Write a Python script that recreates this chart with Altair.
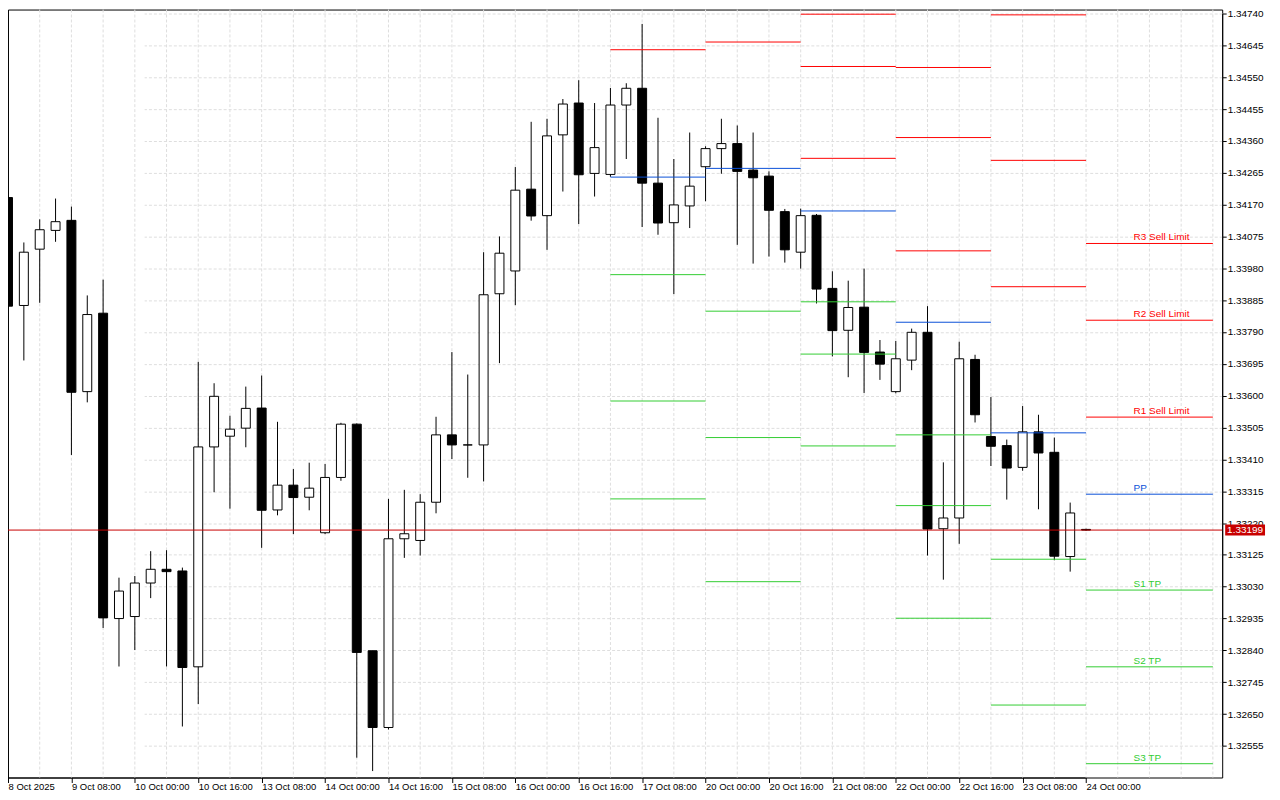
import json
import altair as alt
import pandas as pd

# ---------------- data (H4 candles) ----------------
opens = [1.34191, 1.33869, 1.34037, 1.34093, 1.34123, 1.33612, 1.33846, 1.32935, 1.32941, 1.33041,
         1.33082, 1.33077, 1.32791, 1.33447, 1.33479, 1.33503, 1.33563, 1.33259, 1.33333, 1.33297,
         1.33191, 1.33356, 1.33515, 1.32839, 1.32610, 1.33173, 1.33168, 1.33282, 1.33483, 1.33453,
         1.33453, 1.33904, 1.33972, 1.34216, 1.34137, 1.34378, 1.34473, 1.34263, 1.34260, 1.34467,
         1.34517, 1.34234, 1.34116, 1.34166, 1.34283, 1.34337, 1.34352, 1.34273, 1.34255, 1.34149,
         1.34028, 1.34138, 1.33920, 1.33795, 1.33864, 1.33730, 1.33612, 1.33706, 1.33789, 1.33203,
         1.33235, 1.33708, 1.33478, 1.33451, 1.33386, 1.33492, 1.33431, 1.33120, 1.33201]
highs = [1.34196, 1.34057, 1.34126, 1.34188, 1.34164, 1.33899, 1.33946, 1.33057, 1.33062, 1.33136,
         1.33139, 1.33087, 1.33701, 1.33637, 1.33540, 1.33627, 1.33660, 1.33522, 1.33381, 1.33400,
         1.33396, 1.33519, 1.33517, 1.32839, 1.33292, 1.33319, 1.33306, 1.33537, 1.33730, 1.33663,
         1.34028, 1.34075, 1.34282, 1.34417, 1.34426, 1.34485, 1.34541, 1.34473, 1.34518, 1.34532,
         1.34709, 1.34429, 1.34306, 1.34385, 1.34344, 1.34426, 1.34406, 1.34385, 1.34269, 1.34157,
         1.34158, 1.34142, 1.33971, 1.33943, 1.33979, 1.33766, 1.33763, 1.33800, 1.33867, 1.33401,
         1.33761, 1.33722, 1.33596, 1.33469, 1.33569, 1.33543, 1.33475, 1.33281, 1.33203]
lows = [1.33858, 1.33705, 1.33877, 1.34059, 1.33423, 1.33580, 1.32907, 1.32792, 1.32841, 1.32996,
        1.32792, 1.32613, 1.32680, 1.33312, 1.33263, 1.33446, 1.33146, 1.33243, 1.33187, 1.33258,
        1.33187, 1.33346, 1.32520, 1.32480, 1.32604, 1.33116, 1.33123, 1.33249, 1.33411, 1.33355,
        1.33344, 1.33697, 1.33870, 1.34122, 1.34035, 1.34209, 1.34112, 1.34194, 1.34253, 1.34306,
        1.34103, 1.34080, 1.33903, 1.34100, 1.34180, 1.34262, 1.34050, 1.33994, 1.34015, 1.33997,
        1.33979, 1.33875, 1.33717, 1.33655, 1.33608, 1.33647, 1.33607, 1.33676, 1.33123, 1.33051,
        1.33158, 1.33520, 1.33390, 1.33290, 1.33376, 1.33261, 1.33109, 1.33075, 1.33197]
closes = [1.33867, 1.34028, 1.34095, 1.34119, 1.33610, 1.33842, 1.32937, 1.33017, 1.33041, 1.33082,
          1.33075, 1.32789, 1.33447, 1.33598, 1.33500, 1.33562, 1.33258, 1.33333, 1.33296, 1.33324,
          1.33356, 1.33515, 1.32834, 1.32610, 1.33173, 1.33188, 1.33282, 1.33483, 1.33453, 1.33453,
          1.33901, 1.34025, 1.34213, 1.34136, 1.34375, 1.34470, 1.34259, 1.34340, 1.34467, 1.34517,
          1.34234, 1.34115, 1.34169, 1.34225, 1.34337, 1.34352, 1.34269, 1.34250, 1.34153, 1.34035,
          1.34137, 1.33918, 1.33794, 1.33863, 1.33729, 1.33694, 1.33710, 1.33789, 1.33202, 1.33235,
          1.33710, 1.33543, 1.33449, 1.33384, 1.33492, 1.33429, 1.33121, 1.33250, 1.33199]

# x-axis time labels, one every 4 bars
time_labels = ["8 Oct 2025", "9 Oct 08:00", "10 Oct 00:00", "10 Oct 16:00", "13 Oct 08:00",
               "14 Oct 00:00", "14 Oct 16:00", "15 Oct 08:00", "16 Oct 00:00", "16 Oct 16:00",
               "17 Oct 08:00", "20 Oct 00:00", "20 Oct 16:00", "21 Oct 08:00", "22 Oct 00:00",
               "22 Oct 16:00", "23 Oct 08:00", "24 Oct 00:00"]
time_label_bars = [0, 4, 8, 12, 16, 20, 24, 28, 32, 36, 40, 44, 48, 52, 56, 60, 64, 68]
grid_bars = [2, 4, 6, 8, 10, 12, 14, 16, 18, 20, 22, 24, 26, 28, 30, 32, 34, 36, 38, 40, 42, 44,
             46, 48, 50, 52, 54, 56, 58, 60, 62, 64, 66, 68, 70, 72, 74, 76]
price_ticks = [1.32555, 1.32650, 1.32745, 1.32840, 1.32935, 1.33030, 1.33125, 1.33220,
               1.33315, 1.33410, 1.33505, 1.33600, 1.33695, 1.33790, 1.33885, 1.33980,
               1.34075, 1.34170, 1.34265, 1.34360, 1.34455, 1.34550, 1.34645, 1.34740]

# daily pivot levels
day_start = [38, 44, 50, 56, 62, 68]
day_end = [44, 50, 56, 62, 68, 76]
R3 = [None, None, 1.34738, 1.34579, 1.34736, 1.34054]
R2 = [None, None, 1.34582, 1.34370, 1.34302, 1.33825]
R1 = [1.34632, 1.34655, 1.34308, 1.34032, 1.33925, 1.33536]
PP = [1.34252, 1.34278, 1.34151, 1.33819, 1.33489, 1.33306]
S1 = [1.33961, 1.33852, 1.33880, 1.33483, 1.33112, 1.33020]
S2 = [1.33584, 1.33475, 1.33724, 1.33272, 1.32677, 1.32791]
S3 = [1.33292, 1.33045, 1.33450, 1.32936, None, 1.32502]
level_names = ["R3", "R2", "R1", "PP", "S1", "S2", "S3"]
level_texts = ["R3 Sell Limit", "R2 Sell Limit", "R1 Sell Limit", "PP", "S1 TP", "S2 TP", "S3 TP"]
label_bar = 71

current_price = 1.33199

# ---------------- styling ----------------
FONT = "Liberation Sans"
RED = "#ff0000"
BLUE = "#0a50d8"
GREEN = "#32cd32"
PRICE_RED = "#c80000"
GRID = "#dedede"
W, H = 1219, 771

candles = pd.DataFrame({"k": list(range(len(opens))), "o": opens, "h": highs,
                        "l": lows, "c": closes})
candles["dir"] = ["up" if c >= o else "down" for o, c in zip(opens, closes)]

rows = []
levels = {"R3": R3, "R2": R2, "R1": R1, "PP": PP, "S1": S1, "S2": S2, "S3": S3}
for i in range(len(day_start)):
    for name in level_names:
        v = levels[name][i]
        if v is not None:
            rows.append({"start": day_start[i], "end": day_end[i], "p": v, "level": name})
pivots = pd.DataFrame(rows)

lab_rows = []
for name, txt in zip(level_names, level_texts):
    lab_rows.append({"lk": label_bar, "p": levels[name][-1], "level": name, "txt": txt})
labels = pd.DataFrame(lab_rows)

grid_df = pd.DataFrame({"k": grid_bars})
price_df = pd.DataFrame({"p": [current_price], "txt": [f"{current_price:.5f}"]})

x_scale = alt.Scale(domain=[0, 68], range=[0, 1082.3], nice=False, zero=False, padding=0)
y_scale = alt.Scale(domain=[1.32555, 1.34740], range=[739.3, 4], nice=False, zero=False, padding=0)

label_expr = json.dumps(time_labels) + "[round(datum.value / 4)]"
x_axis = alt.Axis(values=time_label_bars, labelExpr=label_expr, grid=False, ticks=True,
                  tickSize=5, tickColor="black", domainColor="black", labelAlign="left",
                  labelBaseline="alphabetic", labelPadding=7, labelFont=FONT, labelFontSize=9.5,
                  labelColor="black", title=None, labelOverlap=False, labelFlush=False,
                  orient="bottom")
y_axis = alt.Axis(values=price_ticks, format=".5f", grid=True, gridColor=GRID, gridDash=[3, 2],
                  tickSize=4, tickColor="black", domainColor="black", labelAlign="left",
                  labelBaseline="middle", labelPadding=1, labelFont=FONT, labelFontSize=10,
                  labelColor="black", title=None, labelOverlap=False, labelFlush=False,
                  orient="right")

color_scale = alt.Scale(domain=level_names, range=[RED, RED, RED, BLUE, GREEN, GREEN, GREEN])

vgrid = alt.Chart(grid_df).mark_rule(color=GRID, strokeDash=[3, 2], strokeWidth=1).encode(
    x=alt.X("k:Q", scale=x_scale, axis=x_axis))

wicks = alt.Chart(candles).mark_rule(color="black", strokeWidth=1).encode(
    x=alt.X("k:Q", scale=x_scale, axis=x_axis),
    y=alt.Y("l:Q", scale=y_scale, axis=y_axis),
    y2="h:Q")

bodies = alt.Chart(candles).mark_bar(width=9, stroke="black", strokeWidth=1).encode(
    x=alt.X("k:Q", scale=x_scale, axis=x_axis),
    y=alt.Y("o:Q", scale=y_scale, axis=y_axis),
    y2="c:Q",
    fill=alt.Fill("dir:N", scale=alt.Scale(domain=["up", "down"], range=["white", "black"]),
                  legend=None))

pivot_lines = alt.Chart(pivots).mark_rule(strokeWidth=1).encode(
    x=alt.X("start:Q", scale=x_scale, axis=x_axis),
    x2="end:Q",
    y=alt.Y("p:Q", scale=y_scale, axis=y_axis),
    color=alt.Color("level:N", scale=color_scale, legend=None))

pivot_text = alt.Chart(labels).mark_text(align="left", baseline="alphabetic", dy=-3,
                                         font=FONT, fontSize=10).encode(
    x=alt.X("lk:Q", scale=x_scale, axis=x_axis),
    y=alt.Y("p:Q", scale=y_scale, axis=y_axis),
    text="txt:N",
    color=alt.Color("level:N", scale=color_scale, legend=None))

price_line = alt.Chart(price_df).mark_rule(color=PRICE_RED, strokeWidth=1).encode(
    y=alt.Y("p:Q", scale=y_scale, axis=y_axis))

price_box = alt.Chart(price_df).mark_rule(color=PRICE_RED, strokeWidth=11, strokeCap="butt").encode(
    x=alt.value(W + 3), x2=alt.value(W + 43),
    y=alt.Y("p:Q", scale=y_scale, axis=y_axis))

price_txt = alt.Chart(price_df).mark_text(color="white", font=FONT, fontSize=10,
                                          align="center", baseline="middle").encode(
    x=alt.value(W + 23),
    y=alt.Y("p:Q", scale=y_scale, axis=y_axis),
    text="txt:N")

chart = alt.layer(vgrid, wicks, bodies, pivot_lines, price_line, pivot_text, price_box, price_txt).properties(
    width=W, height=H,
    autosize=alt.AutoSizeParams(type="none"),
    padding={"left": 0, "top": 0, "right": 50, "bottom": 13},
    background="white",
).configure_view(stroke="black", strokeWidth=1)

chart.save("out.html", embed_options={"renderer": "svg", "actions": False})
